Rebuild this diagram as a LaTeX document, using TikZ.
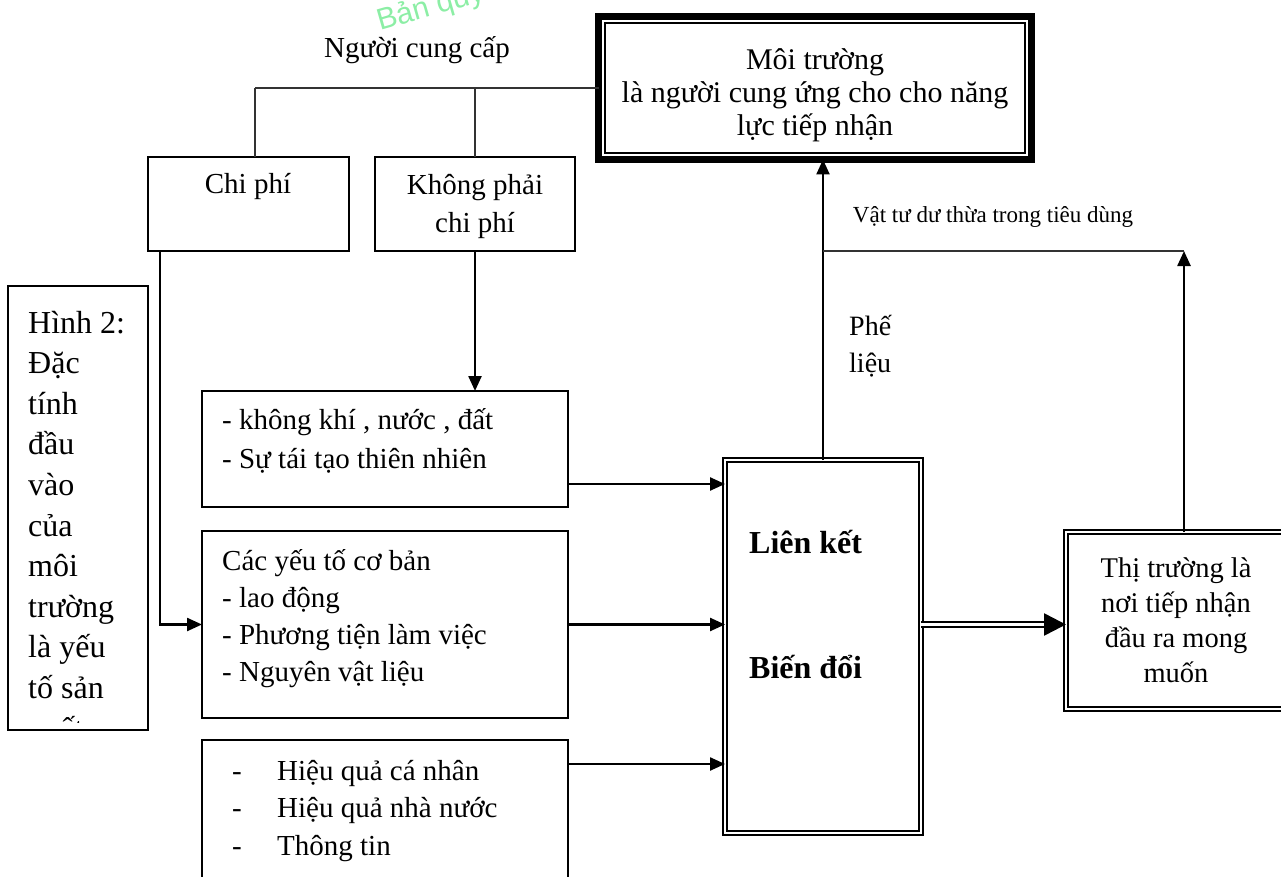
\documentclass[tikz,border=0pt]{standalone}
\usepackage{fontspec}
\setmainfont{Liberation Serif}
\newfontfamily\wmfont{Liberation Sans}
\usetikzlibrary{arrows.meta}
\newcommand\fs[2]{\fontsize{#1}{#2}\selectfont}
\definecolor{wmgreen}{RGB}{140,238,165}
\tikzset{
  box/.style={draw, line width=1.5pt, inner sep=0pt, outer sep=0pt, anchor=north west},
  dblbox/.style={draw, double, double distance=2pt, line width=2pt, inner sep=0pt, outer sep=0pt, anchor=north west},
  txt/.style={inner sep=0pt, font=\fs{29}{36}},
  arr/.style={-{Triangle[length=15pt,width=13pt]}, line width=2.4pt},
  wire/.style={line width=1.2pt, black!80},
  dblarr/.style={double, double distance=2.5pt, line width=2.5pt, -{Triangle[length=22pt,width=22pt]}}
}
\begin{document}
\begin{tikzpicture}[x=1pt,y=-1pt]
\useasboundingbox (0,0) rectangle (1281,877);
\clip (0,0) rectangle (1281,877);
% watermark
\node[font=\wmfont\fs{30}{32}, text=wmgreen, rotate=16, anchor=base west, inner sep=0pt] (stamp) at (380,31) {Bản quyền};
% boxes
\node[draw, line width=7pt, inner sep=0pt, outer sep=0pt, anchor=north west, minimum width=433pt, minimum height=143pt] (env) at (598.5,16.5) {};
\draw[line width=1.4pt] ([shift={(6.5,6.5)}]env.north west) rectangle ([shift={(-6.5,-6.5)}]env.south east);
\node[box, minimum width=201pt, minimum height=94pt] (cost) at (148,157) {};
\node[box, minimum width=200pt, minimum height=94pt] (noncost) at (375,157) {};
\node[box, minimum width=140pt, minimum height=444pt] (caption) at (8,286) {};
\node[box, minimum width=366pt, minimum height=116pt] (nature) at (202,391) {};
\node[box, minimum width=366pt, minimum height=187pt] (basic) at (202,531) {};
\node[box, minimum width=366pt, minimum height=150pt] (social) at (202,740) {};
\node[dblbox, minimum width=196pt, minimum height=373pt] (link) at (725,460) {};
\node[dblbox, minimum width=230pt, minimum height=177pt] (market) at (1066,532) {};
% texts
\node[txt] (supplier) at (417,50) {Người cung cấp};
\node[txt, align=center, font=\fs{30}{33}] (envtext) at (815,95) {Môi trường\\là người cung ứng cho cho năng\\lực tiếp nhận};
\node[txt] (costtext) at (248,187) {Chi phí};
\node[txt, align=center, font=\fs{29}{38}] (noncosttext) at (475,206) {Không phải\\chi phí};
\node[txt, align=left, anchor=west, font=\fs{29}{39}] (naturetext) at (222,441) {- không khí , nước , đất\\- Sự tái tạo thiên nhiên};
\node[txt, align=left, anchor=west, font=\fs{29}{37}] (basictext) at (222,619) {Các yếu tố cơ bản\\- lao động\\- Phương tiện làm việc\\- Nguyên vật liệu};
\node[txt, align=left, anchor=west, font=\fs{29}{37.5}] (socialtext) at (232,811) {\makebox[45pt][l]{-}Hiệu quả cá nhân\\\makebox[45pt][l]{-}Hiệu quả nhà nước\\\makebox[45pt][l]{-}Thông tin};
\node[txt, anchor=west, font=\bfseries\fs{32}{36}] (linktext) at (749,542) {Liên kết};
\node[txt, anchor=west, font=\bfseries\fs{32}{36}] (changetext) at (749,667) {Biến đổi};
\node[txt, align=left, anchor=west, font=\fs{28}{37}] (scrap) at (849,346) {Phế\\liệu};
\node[txt, font=\fs{23}{28}] (surplus) at (993,217) {Vật tư dư thừa trong tiêu dùng};
\node[txt, align=center, font=\fs{28.5}{35}] (markettext) at (1176,620) {Thị trường là\\nơi tiếp nhận\\đầu ra mong\\muốn};
\begin{scope}
\clip (caption.north west) rectangle ([yshift=8pt]caption.south east);
\foreach \word [count=\i] in {Hình 2:, Đặc, tính, đầu, vào, của, môi, trường, là yếu, tố sản, xuất}
  \node[txt, anchor=base west, font=\fs{32}{40}] (cap-\i) at (28,{333+40.6*(\i-1)}) {\word};
\end{scope}
% connectors
\coordinate (fork) at (255,88);
\draw[wire] (fork) -- (env.west |- fork);
\draw[wire] (fork) -- (fork |- cost.north);
\draw[wire] (noncost.north |- fork) -- (noncost.north);
\draw[arr] (noncost.south) -- (noncost.south |- nature.north);
\draw[arr] ([xshift=12pt]cost.south west) |- (basic.west);
\coordinate (in1) at ([yshift=-35pt]nature.east);
\coordinate (in3) at ([yshift=-24pt]social.north east);
\draw[arr] (in1) -- (in1 -| link.west);
\draw[arr] (basic.east) -- (basic.east -| link.west);
\draw[arr] (in3) -- (in3 -| link.west);
\draw[arr] (link.north) -- (link.north |- env.south);
\coordinate (returntop) at (1184,251);
\draw[arr] (returntop |- market.north) -- (returntop);
\draw[wire] (returntop) -- (returntop -| link.north);
\coordinate (out) at (link.east |- basic.east);
\draw[dblarr] (out) -- (out -| market.west);
\end{tikzpicture}
\end{document}
